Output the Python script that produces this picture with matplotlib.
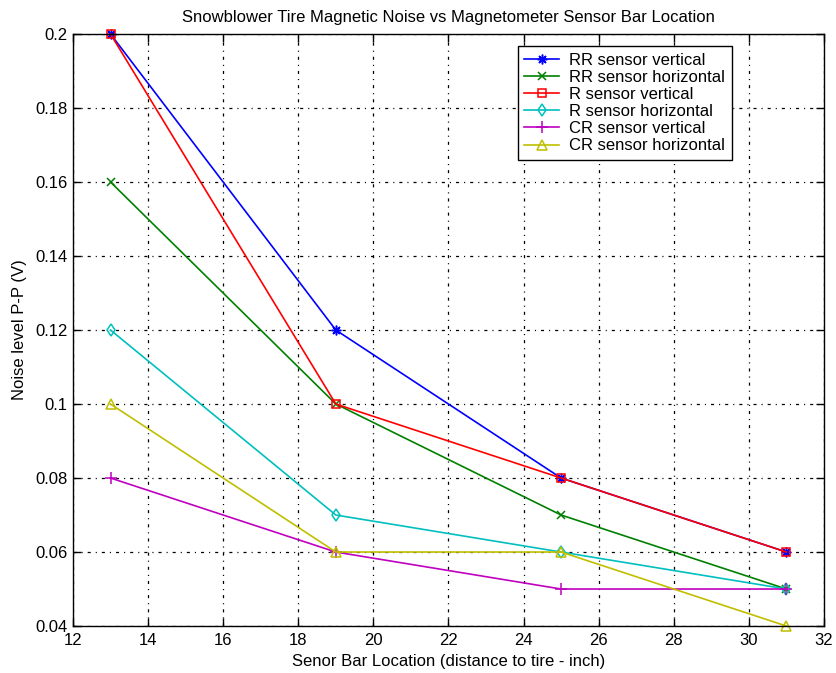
import matplotlib
matplotlib.use("Agg")
import matplotlib.pyplot as plt

x = [13, 19, 25, 31]
rr_vertical = [0.2, 0.12, 0.08, 0.06]
rr_horizontal = [0.16, 0.1, 0.07, 0.05]
r_vertical = [0.2, 0.1, 0.08, 0.06]
r_horizontal = [0.12, 0.07, 0.06, 0.05]
cr_vertical = [0.08, 0.06, 0.05, 0.05]
cr_horizontal = [0.1, 0.06, 0.06, 0.04]
labels = ["RR sensor vertical", "RR sensor horizontal", "R sensor vertical",
          "R sensor horizontal", "CR sensor vertical", "CR sensor horizontal"]
xticks = [12, 14, 16, 18, 20, 22, 24, 26, 28, 30, 32]
yticks = [0.04, 0.06, 0.08, 0.1, 0.12, 0.14, 0.16, 0.18, 0.2]
ytick_labels = ["0.04", "0.06", "0.08", "0.1", "0.12", "0.14", "0.16", "0.18", "0.2"]

plt.rcParams['font.family'] = ['Liberation Sans', 'DejaVu Sans']
plt.rcParams['lines.scale_dashes'] = False
fig = plt.figure(figsize=(8.36, 6.73), dpi=100)
ax = fig.add_axes([0.0873, 0.0698, 0.8983, 0.8796])

series = [rr_vertical, rr_horizontal, r_vertical, r_horizontal, cr_vertical, cr_horizontal]
colors = ['#0000ff', '#008000', '#ff0000', '#00bfbf', '#bf00bf', '#bfbf00']
markers = [(8, 2, 0), 'x', 's', 'd', '+', '^']
sizes = [7, 6, 5.5, 6.5, 8, 6.5]
for y, c, m, ms, lab in zip(series, colors, markers, sizes, labels):
    ax.plot(x, y, color=c, marker=m, markersize=ms, markerfacecolor='none',
            markeredgecolor=c, markeredgewidth=1.1, linewidth=1.2, label=lab, clip_on=False)

ax.set_xlim(12, 32)
ax.set_ylim(0.04, 0.2)
ax.set_xticks(xticks)
ax.set_yticks(yticks)
ax.set_yticklabels(ytick_labels)
ax.tick_params(direction='in', top=True, right=True, labelsize=12, length=5.5, width=1.0)
ax.tick_params(axis='x', pad=5)
ax.tick_params(axis='y', pad=4)
ax.grid(True, linestyle=(0, (2.2, 3.6, 0.8, 3.6)), color='black', linewidth=0.9)
for s in ax.spines.values():
    s.set_linewidth(1.0)

ax.set_title("Snowblower Tire Magnetic Noise vs Magnetometer Sensor Bar Location", fontsize=12, pad=9)
ax.set_xlabel("Senor Bar Location (distance to tire - inch)", fontsize=12, labelpad=4)
ax.set_ylabel("Noise level P-P (V)", fontsize=12, labelpad=6)

leg = ax.legend(loc='upper right', bbox_to_anchor=(0.8775, 0.980), borderaxespad=0, fontsize=12,
                frameon=True, fancybox=False, edgecolor='black', framealpha=1, borderpad=0.4,
                labelspacing=0.13, handlelength=2.1, handletextpad=0.6)
leg.get_frame().set_linewidth(1.0)

fig.savefig("out.png", dpi=100)
